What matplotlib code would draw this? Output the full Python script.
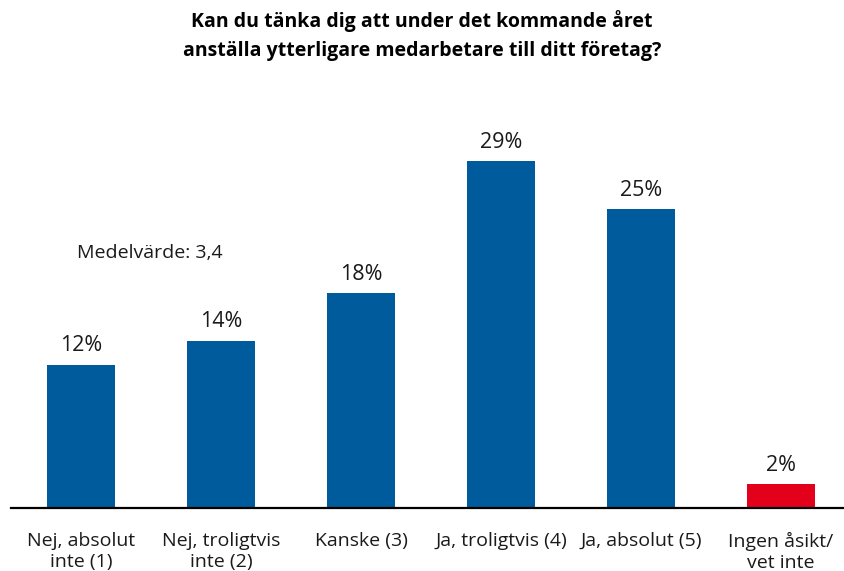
import matplotlib.pyplot as plt

# Svarsalternativ och andelar (%)
kategorier = ['Nej, absolut\ninte (1)', 'Nej, troligtvis\ninte (2)', 'Kanske (3)',
              'Ja, troligtvis (4)', 'Ja, absolut (5)', 'Ingen åsikt/\nvet inte']
andelar = [12, 14, 18, 29, 25, 2]
farger = ['#005B9C'] * 5 + ['#E2001A']

plt.rcParams['font.family'] = ['Open Sans', 'DejaVu Sans']

fig = plt.figure(figsize=(8.44, 5.71), dpi=100)
ax = fig.add_axes([0.013, 0.110, 0.987, 0.712])

x = range(len(kategorier))
ax.bar(x, andelar, width=0.48, color=farger)

for xi, v in zip(x, andelar):
    ax.text(xi, v + 0.7, f'{v}%', ha='center', va='bottom', fontsize=15.5, color='#1a1a1a')

ax.text(-0.03, 21.3, 'Medelvärde: 3,4', ha='left', va='center', fontsize=14, color='#1a1a1a')

ax.set_xlim(-0.5, 5.45)
ax.set_ylim(0, 34)
ax.set_xticks(list(x))
ax.set_xticklabels(kategorier, fontsize=14, color='#1a1a1a', linespacing=1.25)
ax.tick_params(axis='x', length=0, pad=17)
ax.set_yticks([])
for s in ['top', 'right', 'left']:
    ax.spines[s].set_visible(False)
ax.spines['bottom'].set_linewidth(1.6)

fig.text(0.5, 0.938, 'Kan du tänka dig att under det kommande året\nanställa ytterligare medarbetare till ditt företag?',
         ha='center', va='center', fontsize=14, fontweight='bold', linespacing=1.65)

fig.savefig('out.png', dpi=100)
